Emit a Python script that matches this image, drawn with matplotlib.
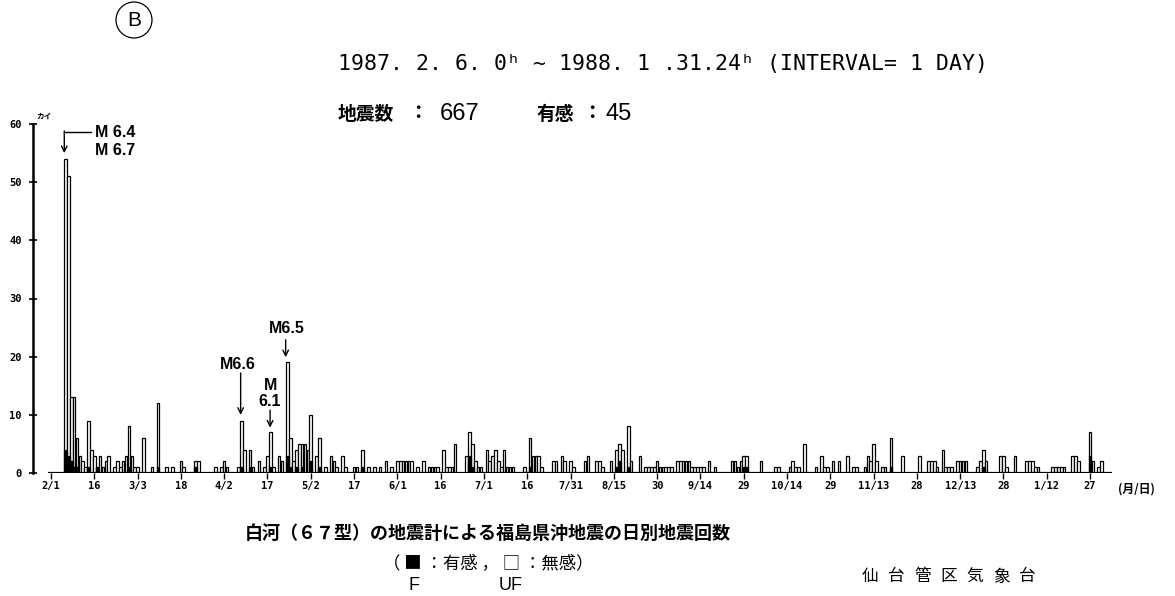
import numpy as np
import matplotlib
matplotlib.use("Agg")
import matplotlib.pyplot as plt
from matplotlib.patches import Ellipse

# daily counts, 1987-02-06 .. 1988-01-31, one list per month
feb = [54, 51, 13, 13, 6, 3, 2, 1, 9, 4, 3, 1, 3, 1, 2, 3, 0, 1, 2, 1, 2, 3, 8]
mar = [3, 1, 1, 0, 6, 0, 0, 1, 0, 12, 0, 0, 1, 0, 1, 0, 0, 2, 1, 0, 0, 0, 2, 2, 0, 0, 0, 0, 0, 1, 0]
apr = [1, 2, 1, 0, 0, 0, 1, 9, 4, 0, 4, 1, 0, 2, 0, 1, 3, 7, 1, 0, 3, 2, 0, 19, 6, 2, 4, 5, 5, 5]
may = [4, 10, 0, 3, 6, 0, 1, 0, 3, 2, 1, 0, 3, 1, 0, 0, 1, 1, 0, 4, 0, 1, 0, 1, 0, 1, 0, 2, 0, 1, 0]
jun = [2, 2, 2, 2, 2, 2, 0, 1, 0, 2, 0, 1, 1, 1, 1, 0, 4, 1, 1, 1, 5, 0, 0, 0, 3, 7, 5, 2, 1, 1]
jul = [0, 4, 2, 3, 4, 2, 1, 4, 1, 1, 1, 0, 0, 0, 1, 0, 6, 3, 3, 3, 1, 0, 0, 0, 2, 2, 0, 3, 2, 0, 2]
aug = [1, 0, 0, 0, 2, 3, 0, 0, 2, 2, 1, 0, 0, 2, 0, 4, 5, 4, 0, 8, 2, 0, 0, 3, 0, 1, 1, 1, 1, 2, 1]
sep = [1, 1, 1, 1, 0, 2, 2, 2, 2, 2, 1, 1, 1, 1, 1, 0, 2, 0, 1, 0, 0, 0, 0, 0, 2, 2, 1, 2, 3, 3]
oct_ = [0, 0, 0, 0, 2, 0, 0, 0, 0, 1, 1, 0, 0, 0, 1, 2, 1, 1, 0, 5, 0, 0, 0, 1, 0, 3, 1, 1, 0, 2, 0]
nov = [2, 0, 0, 3, 0, 1, 1, 0, 0, 1, 3, 2, 5, 2, 0, 1, 1, 0, 6, 0, 0, 0, 3, 0, 0, 0, 0, 0, 3, 0]
dec = [0, 2, 2, 2, 1, 0, 4, 1, 1, 1, 0, 2, 2, 2, 2, 0, 0, 0, 1, 2, 4, 2, 0, 0, 0, 0, 3, 3, 1, 0, 0]
jan = [3, 0, 0, 0, 2, 2, 2, 1, 1, 0, 0, 0, 0, 1, 1, 1, 1, 1, 0, 0, 3, 3, 2, 0, 0, 0, 7, 2, 0, 1, 2]

# felt (有感) counts
felt_dates = ['1987-02-06', '1987-02-07', '1987-02-08', '1987-02-09', '1987-02-10', '1987-02-14',
              '1987-02-17', '1987-02-28', '1987-03-10', '1987-03-23', '1987-04-08', '1987-04-11',
              '1987-04-18', '1987-04-24', '1987-04-25', '1987-04-27', '1987-04-29', '1987-05-02',
              '1987-05-05', '1987-05-20', '1987-06-26', '1987-06-27', '1987-07-17', '1987-08-16',
              '1987-08-17', '1987-08-20', '1987-09-29', '1987-09-30', '1987-11-19', '1987-12-21',
              '1988-01-27']
felt_counts = [4, 3, 2, 1, 1, 1, 1, 1, 1, 1, 1, 1, 1, 3, 1, 1, 1, 2, 1, 1, 3, 1, 1, 1, 2, 1, 1, 1, 1, 1, 3]

tick_labels = ["2/1", "16", "3/3", "18", "4/2", "17", "5/2", "17", "6/1", "16", "7/1", "16",
               "7/31", "8/15", "30", "9/14", "29", "10/14", "29", "11/13", "28", "12/13",
               "28", "1/12", "27"]

origin = np.datetime64('1987-02-01')
counts = np.array(feb + mar + apr + may + jun + jul + aug + sep + oct_ + nov + dec + jan)
days = (np.datetime64('1987-02-06') - origin).astype(int) + np.arange(len(counts))
felt_days = np.array([(np.datetime64(s) - origin).astype(int) for s in felt_dates])

W, H = 1175, 596
fig = plt.figure(figsize=(W / 100, H / 100), dpi=100)
fig.patch.set_facecolor('white')

def fx(x):
    return x / W

def fy(y):
    return 1 - y / H

ax = fig.add_axes([fx(33), fy(473), fx(1112) - fx(33), fy(124) - fy(473)])
ax.set_xlim(-6.24, 367.6)
ax.set_ylim(0, 60)

ax.bar(days, counts, width=0.9, color='white', edgecolor='black', linewidth=0.9, zorder=2)
ax.bar(felt_days, felt_counts, width=0.9, color='black', edgecolor='black', linewidth=0.9, zorder=3)
ax.hlines(0, -1.0, 367.6, color='black', lw=1.6, zorder=4)

for s in ['top', 'right', 'bottom']:
    ax.spines[s].set_visible(False)
ax.spines['left'].set_linewidth(1.8)

ax.set_yticks(np.arange(0, 61, 10))
ax.set_yticklabels([str(v) for v in range(0, 61, 10)], fontsize=7.5,
                   family='DejaVu Sans Mono', fontweight='bold')
ax.tick_params(axis='y', direction='inout', length=6, width=1.2, pad=5)
ax.set_xticks(np.arange(0, 361, 15))
ax.set_xticklabels(tick_labels, fontsize=7.5, family='DejaVu Sans Mono', fontweight='bold')
ax.tick_params(axis='x', direction='out', length=4, width=1.0, pad=2)
ax.text(-5.0, 60.6, 'カイ', fontsize=5.5, family=['Noto Sans CJK JP'], fontweight='bold',
        ha='left', va='bottom', clip_on=False)

# magnitude labels and arrows
mfont = dict(family='Liberation Sans', fontweight='bold', fontsize=11.5)
ax.plot([4.6, 13.8], [58.7, 58.7], color='black', lw=1.0)
ax.annotate('', xy=(4.6, 55.0), xytext=(4.6, 58.8),
            arrowprops=dict(arrowstyle='->', lw=1.0, color='black', shrinkA=0, shrinkB=0))
ax.text(15.2, 58.6, 'M 6.4', ha='left', va='center', **mfont)
ax.text(15.2, 55.5, 'M 6.7', ha='left', va='center', **mfont)

ax.text(64.8, 18.6, 'M6.6', ha='center', va='center', **mfont)
ax.annotate('', xy=(65.7, 10.0), xytext=(65.7, 17.2),
            arrowprops=dict(arrowstyle='->', lw=1.0, color='black', shrinkA=0, shrinkB=0))
ax.text(75.9, 15.1, 'M', ha='center', va='center', **mfont)
ax.text(75.9, 12.3, '6.1', ha='center', va='center', **mfont)
ax.annotate('', xy=(75.9, 7.8), xytext=(75.9, 10.8),
            arrowprops=dict(arrowstyle='->', lw=1.0, color='black', shrinkA=0, shrinkB=0))
ax.text(81.6, 24.8, 'M6.5', ha='center', va='center', **mfont)
ax.annotate('', xy=(81.3, 19.9), xytext=(81.3, 22.9),
            arrowprops=dict(arrowstyle='->', lw=1.0, color='black', shrinkA=0, shrinkB=0))

# header
fig.add_artist(Ellipse((fx(134), fy(20)), width=36 / W, height=36 / H,
                       transform=fig.transFigure, fill=False, lw=0.9, color='black'))
fig.text(fx(134), fy(21), 'B', fontsize=15, family='Liberation Sans', ha='center', va='center')
fig.text(fx(338), fy(64), '1987. 2. 6. 0ʰ ~ 1988. 1 .31.24ʰ (INTERVAL= 1 DAY)',
         fontsize=15.5, family=['DejaVu Sans Mono', 'DejaVu Sans'], ha='left', va='center')
cjk = ['Noto Sans CJK JP', 'DejaVu Sans']
fig.text(fx(338), fy(114), '地震数', fontsize=13.5, family=cjk, fontweight='bold', ha='left', va='center')
fig.text(fx(408), fy(114), '：', fontsize=14, family=cjk, fontweight='bold', ha='left', va='center')
fig.text(fx(440), fy(114), '667', fontsize=17, family='Liberation Sans', ha='left', va='center')
fig.text(fx(537), fy(114), '有感', fontsize=13.5, family=cjk, fontweight='bold', ha='left', va='center')
fig.text(fx(582), fy(114), '：', fontsize=14, family=cjk, fontweight='bold', ha='left', va='center')
fig.text(fx(605), fy(114), '45', fontsize=17, family='Liberation Sans', ha='left', va='center')

fig.text(fx(1118), fy(489), '(月/日)', fontsize=8.5, family=cjk, fontweight='bold', ha='left', va='center')

# footer
fig.text(fx(245), fy(533), '白河（６７型）の地震計による福島県沖地震の日別地震回数',
         fontsize=13, family=cjk, fontweight='bold', ha='left', va='center')
fig.text(fx(383), fy(563), '（ ■ ：有感 ， □ ：無感）', fontsize=12.5, family=cjk,
         ha='left', va='center')
fig.text(fx(414), fy(585), 'F', fontsize=13, family='Liberation Sans', ha='center', va='center')
fig.text(fx(511), fy(585), 'UF', fontsize=13, family='Liberation Sans', ha='center', va='center')
for i, ch in enumerate('仙台管区気象台'):
    fig.text(fx(870 + i * 26.2), fy(577), ch, fontsize=12, family=cjk, ha='center', va='center')

fig.savefig('out.png', dpi=100, facecolor='white')
